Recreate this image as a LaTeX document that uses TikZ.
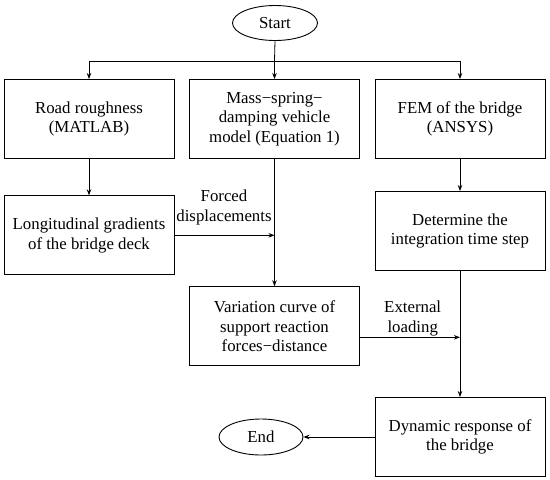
\documentclass[tikz,border=0pt]{standalone}
\usepackage{fontspec}
\setmainfont{Liberation Serif}
\usetikzlibrary{shapes.geometric,arrows.meta,calc}
\begin{document}
\begin{tikzpicture}[x=1pt,y=-1pt,
  every node/.style={font=\fontsize{16.8}{19.5}\selectfont, inner sep=0pt},
  procbox/.style={draw, line width=1pt, minimum width=170pt, minimum height=79pt, align=center},
  term/.style={draw, ellipse, line width=0.9pt, minimum width=85pt, minimum height=35pt},
  lbl/.style={align=center},
  arr/.style={line width=0.8pt, -{Stealth[length=6pt,width=4.5pt]}},
  ln/.style={line width=0.8pt}]
\useasboundingbox (0,0) rectangle (550,480);
\node[term] (start) at (275,23) {Start};
\coordinate (j) at (274.5,61);
\node[procbox] (b1) at (89,119) {Road roughness\\(MATLAB)};
\node[procbox] (b2) at (274.5,119) {Mass−spring−\\damping vehicle\\model (Equation 1)};
\node[procbox] (b3) at (460,119) {FEM of the bridge\\(ANSYS)};
\node[procbox] (b4) at (89,235.3) {Longitudinal gradients\\of the bridge deck};
\node[procbox] (b5) at (460,231) {Determine the\\integration time step};
\node[procbox] (b6) at (274.5,326.3) {Variation curve of\\support reaction\\forces−distance};
\node[procbox] (b7) at (460,437) {Dynamic response of\\the bridge};
\node[term, minimum width=84pt, minimum height=36pt] (end) at (261,437) {End};
\node[lbl] (fd) at (224,207.5) {Forced\\displacements};
\node[lbl] (el) at (412.7,318.5) {External\\loading};
\draw[ln] (start.south) -- (j);
\draw[ln] (j -| b1.north) -- (j -| b3.north);
\draw[arr] (j -| b1.north) -- (b1.north);
\draw[arr] (j) -- (b2.north);
\draw[arr] (j -| b3.north) -- (b3.north);
\draw[arr] (b1.south) -- (b4.north);
\draw[arr] (b2.south) -- (b6.north);
\draw[arr] (b4.east) -- (b4.east -| b2.south);
\draw[arr] (b3.south) -- (b5.north);
\draw[arr] (b5.south) -- (b7.north);
\draw[arr] ([yshift=-11pt]b6.east) -- ([yshift=-11pt]b6.east -| b5.south);
\draw[arr] (b7.west) -- (end.east);
\end{tikzpicture}
\end{document}
